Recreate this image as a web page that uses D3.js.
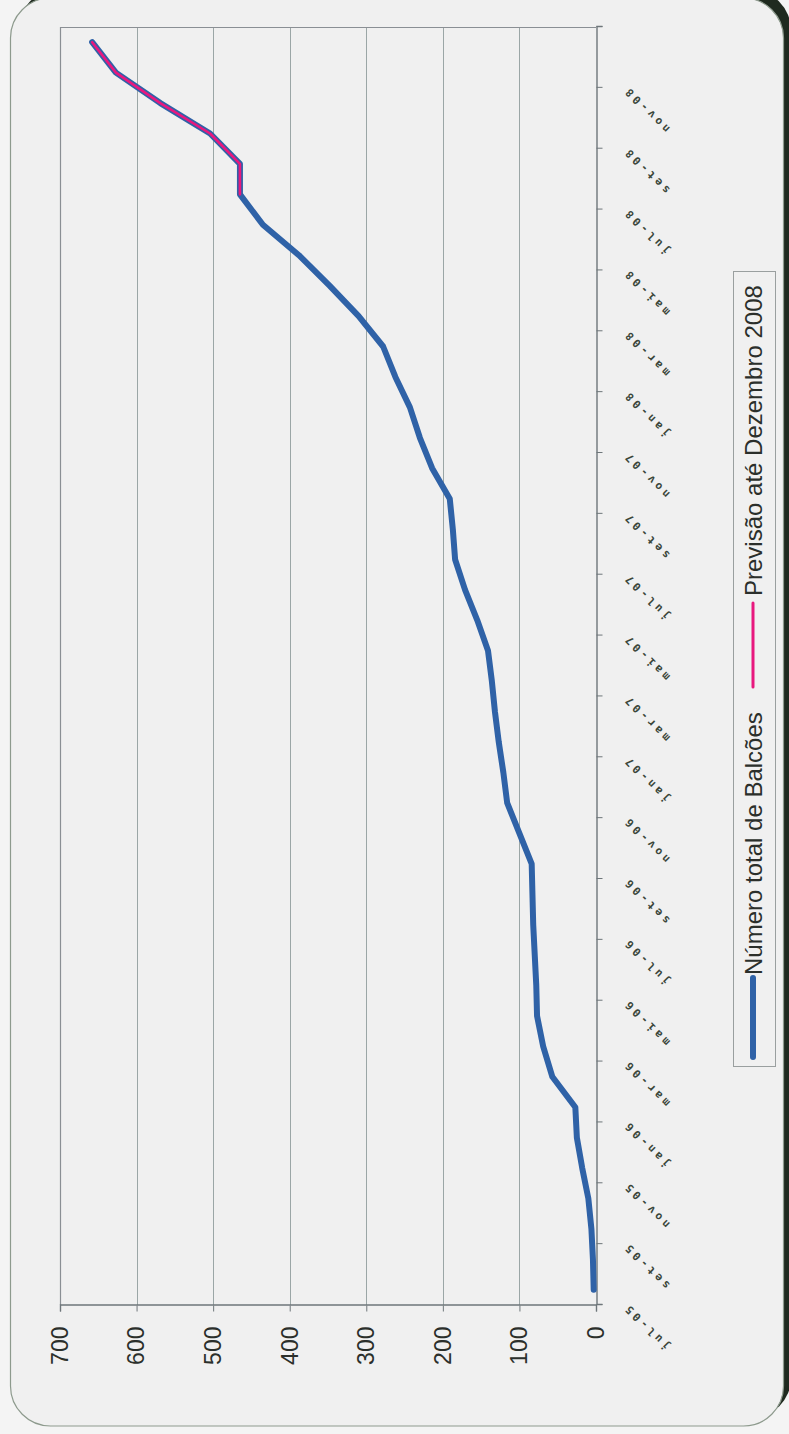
<!DOCTYPE html>
<html><head><meta charset="utf-8">
<script src="https://cdn.jsdelivr.net/npm/d3@7"></script>
<style>html,body{margin:0;padding:0;background:#f4f4f4;} svg{display:block}</style>
</head><body>
<script>
// ---------- data ----------
const categories = [
  "jul-05","ago-05","set-05","out-05","nov-05","dez-05",
  "jan-06","fev-06","mar-06","abr-06","mai-06","jun-06","jul-06","ago-06","set-06","out-06","nov-06","dez-06",
  "jan-07","fev-07","mar-07","abr-07","mai-07","jun-07","jul-07","ago-07","set-07","out-07","nov-07","dez-07",
  "jan-08","fev-08","mar-08","abr-08","mai-08","jun-08","jul-08","ago-08","set-08","out-08","nov-08","dez-08"
];
const balcoes = [3,4,6,10,18,25,27,57,69,77,78,80,82,83,84,100,116,121,127,132,136,141,155,171,184,187,191,214,230,243,262,278,310,348,388,435,465,465,504,569,627,658];
const previsao = [null,null,null,null,null,null,null,null,null,null,null,null,null,null,null,null,null,null,null,null,null,null,null,null,null,null,null,null,null,null,null,null,null,null,null,null,465,465,504,569,627,658];
const valueTicks = [0,100,200,300,400,500,600,700];
const seriesNames = ["Número total de Balcões","Previsão até Dezembro 2008"];
const seriesColors = ["#2f62a7","#e8187e"];

// ---------- canvas ----------
const W = 789, H = 1434;
const svg = d3.select("body").append("svg").attr("width", W).attr("height", H);

// frame with shadow (screen coords)
svg.append("rect").attr("x", 18).attr("y", -10).attr("width", 773).attr("height", 1428)
  .attr("rx", 40).attr("fill", "#1f2a1f");
svg.append("rect").attr("x", 10.5).attr("y", -2).attr("width", 773).attr("height", 1428)
  .attr("rx", 40).attr("fill", "#f0f0f0").attr("stroke", "#8d9a8d").attr("stroke-width", 1.2);

// chart drawn in its original (landscape) orientation, then rotated
const g = svg.append("g").attr("transform", `translate(0,${H}) rotate(-90)`);
const plot = {left: 129, right: 1407, top: 60, bottom: 596};

const x = d3.scaleBand().domain(categories).range([plot.left, plot.right]).padding(0);
const xi = d3.scaleLinear().domain([0, categories.length]).range([plot.left, plot.right]);
const y = d3.scaleLinear().domain([0, 700]).range([plot.bottom, plot.top]);

// gridlines
g.append("g").selectAll("line").data(valueTicks.filter(v => v > 0 && v < 700)).join("line")
  .attr("x1", plot.left).attr("x2", plot.right)
  .attr("y1", d => Math.round(y(d)) + 0.5).attr("y2", d => Math.round(y(d)) + 0.5)
  .attr("stroke", "#9ba6a6").attr("stroke-width", 1);

// plot border (top/right in original)
g.append("path")
  .attr("d", `M${plot.left},${Math.round(y(700)) + 0.5}H${plot.right - 0.5}V${plot.bottom}`)
  .attr("fill", "none").attr("stroke", "#8a8f94").attr("stroke-width", 1.2);

// value axis
const yAxis = g.append("g").attr("transform", `translate(${plot.left - 0.5},0)`)
  .call(d3.axisLeft(y).tickValues(valueTicks).tickSize(6).tickPadding(15).tickFormat(d3.format("d")));
yAxis.select(".domain").attr("stroke", "#6e767a").attr("stroke-width", 1.4);
yAxis.selectAll(".tick line").attr("stroke", "#6e767a");
yAxis.selectAll("text").attr("font-family", "Liberation Sans, Arial, sans-serif")
  .attr("font-size", 23).attr("fill", "#2b2f2b");

// category axis
const xAxis = g.append("g").attr("transform", `translate(0,${plot.bottom + 0.5})`)
  .call(d3.axisBottom(xi).tickValues(d3.range(0, categories.length + 1, 2)).tickSize(6)
    .tickFormat(i => i < categories.length ? categories[i] : ""));
xAxis.select(".domain").attr("stroke", "#6e767a").attr("stroke-width", 1.4);
xAxis.selectAll(".tick line").attr("stroke", "#6e767a");
xAxis.selectAll("text")
  .attr("x", 0).attr("y", 0).attr("dy", 0)
  .attr("transform", "translate(2,31) rotate(-45)")
  .attr("text-anchor", "end")
  .attr("font-family", "DejaVu Sans Mono, monospace")
  .attr("font-size", 11).attr("font-weight", "bold")
  .attr("letter-spacing", 3.5)
  .attr("fill", "#3a463a");

// lines
const line = d3.line()
  .defined(d => d != null)
  .x((d, i) => x(categories[i]) + x.bandwidth() / 2)
  .y(d => y(d));
g.append("path").datum(balcoes).attr("d", line)
  .attr("fill", "none").attr("stroke", seriesColors[0]).attr("stroke-width", 6)
  .attr("stroke-linejoin", "round").attr("stroke-linecap", "round");
g.append("path").datum(previsao).attr("d", line)
  .attr("fill", "none").attr("stroke", seriesColors[1]).attr("stroke-width", 2.6)
  .attr("stroke-linejoin", "round").attr("stroke-linecap", "round");

// legend
const lg = g.append("g");
lg.append("rect").attr("x", 367.5).attr("y", 733.5).attr("width", 795).attr("height", 42)
  .attr("fill", "none").attr("stroke", "#9a9f9f").attr("stroke-width", 1);
const legendItems = [
  {x1: 377, x2: 456, tx: 459, w: 6},
  {x1: 747, x2: 831, tx: 838, w: 3}
];
legendItems.forEach((it, i) => {
  lg.append("line").attr("x1", it.x1).attr("x2", it.x2).attr("y1", 753).attr("y2", 753)
    .attr("stroke", seriesColors[i]).attr("stroke-width", it.w).attr("stroke-linecap", "round");
  lg.append("text").attr("x", it.tx).attr("y", 762)
    .attr("font-family", "Liberation Sans, Arial, sans-serif").attr("font-size", 24)
    .attr("fill", "#2b2f2b").text(seriesNames[i]);
});
</script>
</body></html>
